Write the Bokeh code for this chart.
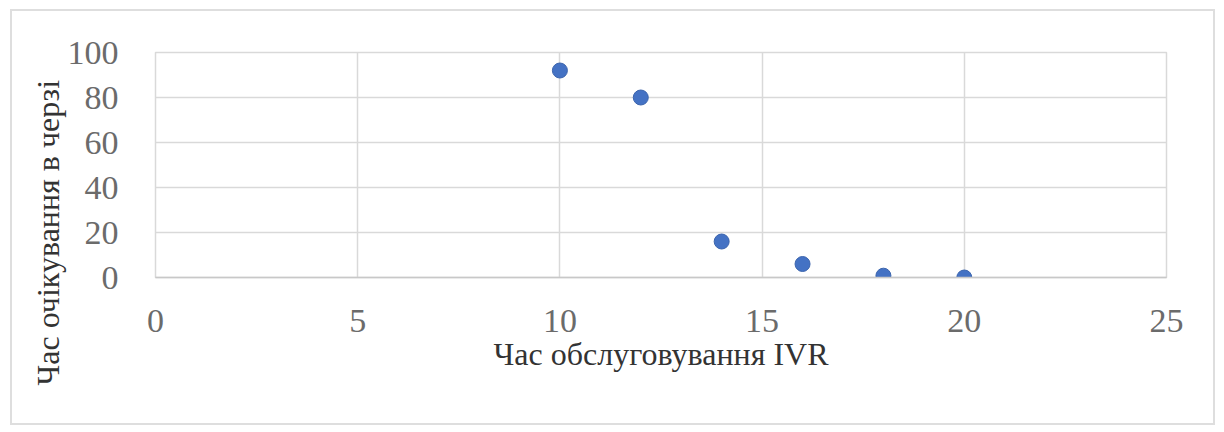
from bokeh.plotting import figure
from bokeh.models import Range1d, FixedTicker, Title
from bokeh.embed import file_html
from bokeh.resources import INLINE

# Data
ivr_time = [10, 12, 14, 16, 18, 20]
queue_wait = [92, 80, 16, 6, 0.8, 0]
x_ticks = [0, 5, 10, 15, 20, 25]
y_ticks = [0, 20, 40, 60, 80, 100]
x_title = "Час обслуговування IVR"
y_title = "Час очікування в черзі"

FONT = "Liberation Serif"
GRID = "#d9d9d9"

p = figure(width=1205, height=416, output_backend="svg", toolbar_location=None,
           x_range=Range1d(0, 25), y_range=Range1d(0, 100),
           min_border_left=143, min_border_right=51, min_border_top=41,
           min_border_bottom=150)

p.styles = {"border": "2px solid #dedede", "margin-left": "10px", "margin-top": "9px"}
p.outline_line_color = GRID
p.outline_line_width = 1.5
p.background_fill_color = "white"
p.border_fill_color = "white"

p.xaxis.ticker = FixedTicker(ticks=x_ticks)
p.yaxis.ticker = FixedTicker(ticks=y_ticks)
p.xgrid.ticker = FixedTicker(ticks=x_ticks)
p.ygrid.ticker = FixedTicker(ticks=y_ticks)
p.xgrid.grid_line_color = GRID
p.ygrid.grid_line_color = GRID
p.xgrid.grid_line_width = 1.5
p.ygrid.grid_line_width = 1.5

xa = p.xaxis[0]
xa.axis_line_color = "#c8c8c8"
xa.axis_line_width = 1.5
xa.major_tick_line_color = None
xa.minor_tick_line_color = None
xa.major_label_text_font = FONT
xa.major_label_text_font_size = "34px"
xa.major_label_text_color = "#6b6b6b"
xa.major_label_standoff = 26
xa.axis_label = x_title
xa.axis_label_text_font = FONT
xa.axis_label_text_font_size = "32px"
xa.axis_label_text_font_style = "normal"
xa.axis_label_text_color = "#333333"
xa.axis_label_standoff = 1

ya = p.yaxis[0]
ya.axis_line_color = None
ya.major_tick_line_color = None
ya.minor_tick_line_color = None
ya.major_label_text_font = FONT
ya.major_label_text_font_size = "34px"
ya.major_label_text_color = "#6b6b6b"
ya.major_label_standoff = 31

p.add_layout(Title(text=y_title, align="left", offset=-108, standoff=-3,
                   text_font=FONT, text_font_size="32px", text_font_style="normal",
                   text_color="#333333"), "left")

p.scatter(ivr_time, queue_wait, size=15, color="#4472C4", line_color="#3b64ad")

open("out.html", "w").write(file_html(p, INLINE))
